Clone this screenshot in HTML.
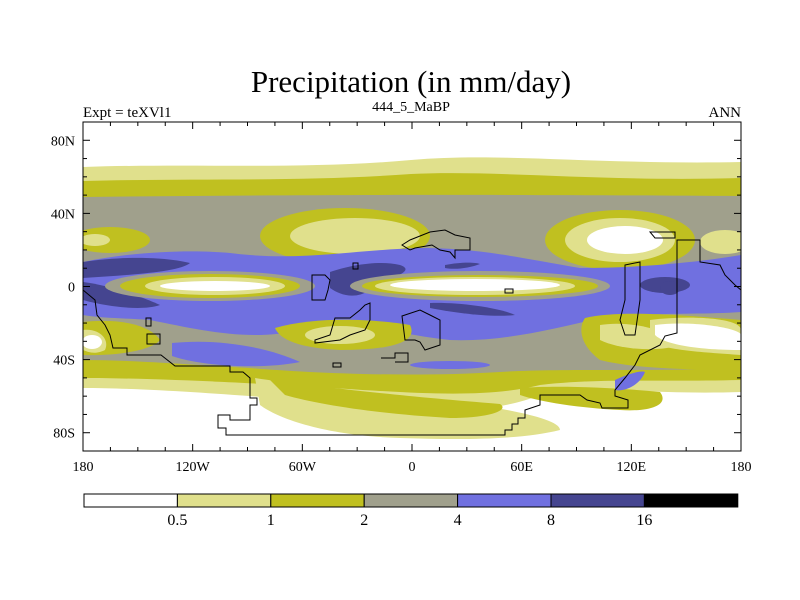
<!DOCTYPE html>
<html><head><meta charset="utf-8"><style>
html,body{margin:0;padding:0;background:#fff;}
svg{display:block;font-family:"Liberation Serif",serif;}
</style></head><body>
<svg id="chart" width="800" height="600" viewBox="0 0 800 600">
<text x="411" y="92" font-size="31" text-anchor="middle">Precipitation (in mm/day)</text>
<text x="83" y="117" font-size="15">Expt = teXVl1</text>
<text x="411" y="111" font-size="14" text-anchor="middle">444_5_MaBP</text>
<text x="741" y="117" font-size="15" text-anchor="end">ANN</text>
<defs><clipPath id="pc"><rect x="83" y="122" width="658" height="329"/></clipPath></defs>
<g clip-path="url(#pc)">
<rect x="83" y="122" width="658" height="329" fill="#ffffff"/>
<path d="M83,167 C200,163 300,170 411,160 C500,152 600,165 741,162 L741,392 C650,395 600,385 540,395 C480,420 380,410 300,400 C250,396 150,388 83,388 Z" fill="#e0e08c"/>
<path d="M83,181 C200,178 300,182 411,174 C500,170 600,182 741,178 L741,380 C650,382 600,378 540,385 C480,400 400,392 300,386 C250,383 150,378 83,378 Z" fill="#c0c020"/>
<path d="M83,197 C250,195 450,194 741,196 L741,368 C650,372 560,368 500,372 C400,378 300,372 250,368 C180,364 130,360 83,360 Z" fill="#a0a08c"/>
<!-- southern yellow tongue -->
<path d="M255,378 C300,385 380,395 480,405 C520,412 560,420 560,430 C520,440 460,440 400,438 C330,436 280,420 260,405 Z" fill="#e0e08c"/>
<path d="M270,380 C330,388 400,396 500,404 C510,410 490,418 450,418 C380,414 320,405 285,395 Z" fill="#c0c020"/>
<path d="M520,388 C560,385 620,388 660,392 C670,405 650,412 620,410 C580,408 540,402 520,395 Z" fill="#c0c020"/>
<!-- NH patches -->
<ellipse cx="110" cy="240" rx="40" ry="13" fill="#c0c020"/>
<ellipse cx="95" cy="240" rx="15" ry="6" fill="#e0e08c"/>
<ellipse cx="345" cy="236" rx="85" ry="28" fill="#c0c020"/>
<ellipse cx="355" cy="236" rx="65" ry="18" fill="#e0e08c"/>
<ellipse cx="620" cy="240" rx="75" ry="30" fill="#c0c020"/>
<ellipse cx="620" cy="240" rx="55" ry="22" fill="#e0e08c"/>
<ellipse cx="625" cy="240" rx="38" ry="14" fill="#ffffff"/>
<ellipse cx="725" cy="242" rx="25" ry="12" fill="#e0e08c"/>
<!-- blue equatorial band -->
<path d="M83,262 C140,250 200,250 230,253 C300,262 350,250 420,248 C480,248 520,258 580,268 C640,268 700,262 741,255 L741,312 C700,315 650,312 600,318 C550,330 500,342 450,340 C400,335 350,318 300,330 C250,342 200,330 150,320 C120,318 100,318 83,315 Z" fill="#7070e0"/>
<path d="M83,262 C130,255 170,258 190,263 C180,272 130,275 83,278 Z" fill="#454590"/>
<path d="M83,282 C110,285 150,300 160,305 C140,312 100,305 83,300 Z" fill="#454590"/>
<path d="M330,272 C350,265 380,260 400,265 C420,272 380,280 370,290 C355,300 340,295 330,288 Z" fill="#454590"/>
<path d="M430,303 C460,302 500,308 515,315 C490,318 450,312 430,308 Z" fill="#454590"/>
<path d="M445,265 C460,262 475,262 480,264 C470,268 455,270 445,268 Z" fill="#454590"/>
<ellipse cx="665" cy="285" rx="25" ry="8" fill="#454590"/>
<ellipse cx="670" cy="288" rx="10" ry="7" fill="#454590"/>
<!-- equator dry ellipses -->
<ellipse cx="210" cy="286" rx="105" ry="15" fill="#a0a08c"/>
<ellipse cx="210" cy="286" rx="90" ry="12" fill="#c0c020"/>
<ellipse cx="215" cy="286" rx="70" ry="9" fill="#e0e08c"/>
<ellipse cx="215" cy="286" rx="55" ry="5" fill="#ffffff"/>
<ellipse cx="480" cy="286" rx="130" ry="15" fill="#a0a08c"/>
<ellipse cx="480" cy="286" rx="118" ry="11" fill="#c0c020"/>
<ellipse cx="475" cy="286" rx="100" ry="9" fill="#e0e08c"/>
<ellipse cx="475" cy="285" rx="85" ry="6" fill="#ffffff"/>
<!-- SH patches -->
<path d="M83,322 C120,318 150,325 160,340 C150,352 110,356 83,355 Z" fill="#c0c020"/>
<path d="M83,330 C100,328 110,340 105,350 C95,355 88,352 83,350 Z" fill="#e0e08c"/>
<ellipse cx="92" cy="342" rx="10" ry="7" fill="#ffffff"/>
<path d="M275,328 C320,315 380,320 410,325 C420,345 380,350 340,350 C300,348 280,340 275,328 Z" fill="#c0c020"/>
<ellipse cx="340" cy="335" rx="35" ry="9" fill="#e0e08c"/>
<path d="M585,318 C620,310 680,315 741,320 L741,372 C690,368 640,370 600,360 C580,345 578,328 585,318 Z" fill="#c0c020"/>
<path d="M600,325 C630,320 670,330 680,345 C660,352 620,350 600,340 Z" fill="#e0e08c"/>
<path d="M650,320 C690,315 741,318 741,330 L741,355 C700,352 660,350 650,340 Z" fill="#e0e08c"/>
<path d="M655,325 C690,320 741,328 741,335 L741,350 C700,350 665,345 655,335 Z" fill="#ffffff"/>
<path d="M172,343 C220,338 270,348 300,362 C260,370 200,366 172,356 Z" fill="#7070e0"/>
<ellipse cx="450" cy="365" rx="40" ry="4" fill="#7070e0"/>
<path d="M615,380 C625,375 640,370 645,372 C640,385 625,392 615,390 Z" fill="#7070e0"/>
</g>
<g fill="none" stroke="#000" stroke-width="1">
<path d="M83,290 L95,300 L97,315 L105,325 L110,335 L113,348 L127,348 L127,355 L161,355 L175,366 L230,366 L230,372 L243,372 L250,378 L250,398 L257,398 L257,405 L250,405 L250,420 L230,420 L230,415 L218,415 L218,428 L226,428 L226,435 L505,435 L505,430 L512,430 L512,424 L518,424 L518,418 L525,418 L525,410 L540,405 L540,395 L580,395 L587,400 L600,403 L602,408 L628,408 L628,400 L615,396 L615,390 L625,378 L635,365 L640,355 L660,345 L665,336 L677,333 L677,310 L677,240 L700,240 L700,262 L720,265 L725,275 L735,285 L741,290"/>
<path d="M402,245 L410,240 L430,232 L445,230 L455,235 L470,238 L470,250 L455,250 L455,258 L450,252 L440,250 L432,245 L415,248 L410,250 Z"/>
<path d="M312,275 L312,300 L325,300 L328,290 L330,280 L325,275 Z"/>
<path d="M402,316 L420,310 L430,315 L440,320 L440,345 L425,350 L420,342 L415,340 L405,340 Z"/>
<path d="M335,318 L350,318 L360,310 L365,305 L370,303 L370,320 L365,330 L350,335 L340,340 L315,343 L315,340 L330,335 Z"/>
<path d="M625,265 L640,262 L640,300 L635,335 L625,335 L620,320 L625,300 Z"/>
<path d="M650,232 L675,232 L675,238 L655,238 Z"/>
<rect x="146" y="318" width="5" height="8"/>
<rect x="147" y="334" width="13" height="10"/>
<rect x="333" y="363" width="8" height="4"/>
<rect x="353" y="263" width="5" height="6"/>
<rect x="505" y="289" width="8" height="4"/>
<path d="M381,358 L395,358 L395,353 L408,353 L408,362 L395,362"/>
</g>
<rect x="83" y="122" width="658" height="329" fill="none" stroke="#000" stroke-width="1"/>
<g id="xaxis"></g>
<g id="yaxis"></g>
<g id="colorbar"></g>
<script>
const lonTicks=[-180,-120,-60,0,60,120,180];
const lonLabels=["180","120W","60W","0","60E","120E","180"];
const latTicks=[80,40,0,-40,-80];
const latLabels=["80N","40N","0","40S","80S"];
const levelLabels=["0.5","1","2","4","8","16"];
const levelColors=["#ffffff","#e0e08c","#c0c020","#a0a08c","#7070e0","#454590","#000000"];
const ns="http://www.w3.org/2000/svg";
const X0=83,X1=741,Y0=122,Y1=451;
const xs=l=>X0+(l+180)/360*(X1-X0);
const ys=l=>Y0+(90-l)/180*(Y1-Y0);
function mk(t,a,p){const e=document.createElementNS(ns,t);for(const k in a)e.setAttribute(k,a[k]);p.appendChild(e);return e;}
const xa=document.getElementById('xaxis'),ya=document.getElementById('yaxis'),cb=document.getElementById('colorbar');
for(let l=-180;l<=180;l+=15){const x=xs(l);const big=l%60===0;
const t1=mk('line',{x1:x,x2:x,y1:Y1,y2:Y1-(big?7:4),stroke:'#000'},xa);


const t2=mk('line',{x1:x,x2:x,y1:Y0,y2:Y0+(big?7:4),stroke:'#000'},xa);

}
lonTicks.forEach((l,i)=>{const t=mk('text',{x:xs(l),y:471,'font-size':14,'text-anchor':'middle'},xa);t.textContent=lonLabels[i];

});
for(let l=-90;l<=90;l+=10){const y=ys(l);const big=l%40===0;
const t1=mk('line',{x1:X0,x2:X0+(big?7:4),y1:y,y2:y,stroke:'#000'},ya);


const t2=mk('line',{x1:X1,x2:X1-(big?7:4),y1:y,y2:y,stroke:'#000'},ya);

}
latTicks.forEach((l,i)=>{const t=mk('text',{x:75,y:ys(l)+5,'font-size':14,'text-anchor':'end'},ya);t.textContent=latLabels[i];

});
levelColors.forEach((c,i)=>{const r=mk('rect',{x:84+i*93.4,y:494,width:93.4,height:13,fill:c,stroke:'#000','stroke-width':1},cb);

});
levelLabels.forEach((s,i)=>{const t=mk('text',{x:84+(i+1)*93.4,y:525,'font-size':16,'text-anchor':'middle'},cb);t.textContent=s;

});
</script>
</svg>
</body></html>
